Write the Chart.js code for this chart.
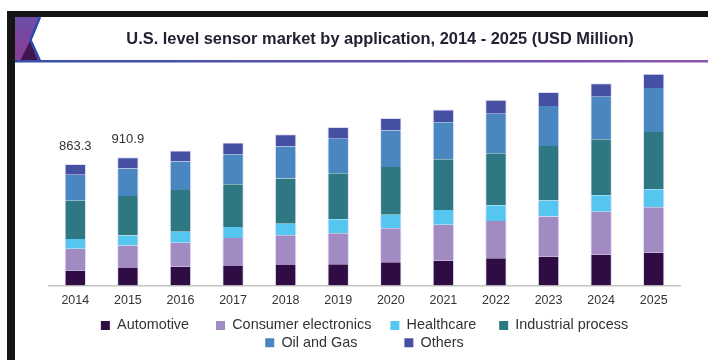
<!DOCTYPE html>
<html>
<head>
<meta charset="utf-8">
<script src="https://cdn.jsdelivr.net/npm/chart.js@4.4.1/dist/chart.umd.min.js"></script>
<style>
  html, body { margin: 0; padding: 0; background: #ffffff; }
  #wrap { position: relative; width: 708px; height: 360px; }
</style>
</head>
<body>
<div id="wrap"><canvas id="bar_chart"></canvas></div>
<script>
  // Years on the x axis
  const years = ['2014', '2015', '2016', '2017', '2018', '2019', '2020', '2021', '2022', '2023', '2024', '2025'];

  // Market size per application, USD million (stacked bottom to top)
  const automotive = [108, 125, 134, 139, 146, 151, 165, 176, 194, 205, 219, 233];
  const consumerElectronics = [154, 160, 171, 199, 211, 221, 242, 256, 265, 285, 306, 323];
  const healthcare = [69, 71, 78, 78, 83, 100, 97, 105, 112, 114, 117, 128];
  const industrialProcess = [271, 281, 297, 304, 320, 327, 339, 361, 370, 387, 398, 408];
  const oilAndGas = [185, 194, 201, 213, 228, 244, 258, 263, 280, 285, 301, 311];
  const others = [76.3, 79.9, 78, 83, 88, 83, 90, 90, 100, 100, 97, 102];

  const seriesNames = ['Automotive', 'Consumer electronics', 'Healthcare', 'Industrial process', 'Oil and Gas', 'Others'];
  const seriesValues = [automotive, consumerElectronics, healthcare, industrialProcess, oilAndGas, others];

  // Years that get a total printed above the bar
  const labelledYears = ['2014', '2015'];

  const chartTitle = 'U.S. level sensor market by application, 2014 - 2025 (USD Million)';

  const colors = ['#300c44', '#a28ac2', '#55c6f0', '#2d7883', '#4a86bf', '#4650a3'];
  // extra spaces after each legend entry, to spread the items out
  const legendGaps = [6, 4, 5, 0, 11, 0];

  const FONT = "'Liberation Sans', Arial, sans-serif";

  // header: frame, purple corner piece, title and underline
  const headerDecor = {
    id: 'headerDecor',
    beforeDraw(chart) {
      const ctx = chart.ctx;
      ctx.save();
      ctx.fillStyle = '#151515';
      ctx.fillRect(7, 11, 701, 6);
      ctx.fillRect(7, 11, 8, 349);

      const grad = ctx.createLinearGradient(0, 17, 0, 61);
      grad.addColorStop(0, '#6a4ea8');
      grad.addColorStop(1, '#8c3c98');
      ctx.fillStyle = grad;
      ctx.beginPath();
      ctx.moveTo(15, 17);
      ctx.lineTo(39, 17);
      ctx.lineTo(30, 40);
      ctx.lineTo(39, 61);
      ctx.lineTo(15, 61);
      ctx.closePath();
      ctx.fill();

      ctx.fillStyle = '#3e1650';
      ctx.beginPath();
      ctx.moveTo(20, 61);
      ctx.lineTo(30, 41);
      ctx.lineTo(38, 61);
      ctx.closePath();
      ctx.fill();

      ctx.strokeStyle = '#2b4aa8';
      ctx.lineWidth = 2.5;
      ctx.beginPath();
      ctx.moveTo(40, 17);
      ctx.lineTo(30.5, 40);
      ctx.lineTo(40, 61);
      ctx.stroke();

      const line = ctx.createLinearGradient(15, 0, 708, 0);
      line.addColorStop(0, '#3550a5');
      line.addColorStop(1, '#8b55b0');
      ctx.fillStyle = line;
      ctx.fillRect(15, 60, 693, 2.5);

      ctx.font = 'bold 16.4px ' + FONT;
      ctx.fillStyle = '#222233';
      ctx.textAlign = 'center';
      ctx.textBaseline = 'middle';
      ctx.fillText(chartTitle, 380, 39);
      ctx.restore();
    }
  };

  // total value written above selected bars
  const totalLabels = {
    id: 'totalLabels',
    afterDatasetsDraw(chart) {
      const ctx = chart.ctx;
      const topMeta = chart.getDatasetMeta(seriesValues.length - 1);
      ctx.save();
      ctx.font = '13px ' + FONT;
      ctx.fillStyle = '#333333';
      ctx.textAlign = 'center';
      ctx.textBaseline = 'middle';
      labelledYears.forEach(year => {
        const i = years.indexOf(year);
        const total = seriesValues.reduce((s, arr) => s + arr[i], 0);
        const bar = topMeta.data[i];
        ctx.fillText(total.toFixed(1), bar.x, bar.y - 18);
      });
      ctx.restore();
    }
  };

  const datasets = seriesNames.map((name, k) => ({
    label: name,
    data: seriesValues[k],
    backgroundColor: colors[k],
    borderColor: 'rgba(222,216,244,0.9)',
    borderWidth: k === seriesValues.length - 1 ? {top: 1, left: 1, right: 1, bottom: 0} : {top: 0, left: 1, right: 1, bottom: 0},
    categoryPercentage: 1,
    barPercentage: 0.407
  }));

  const ctx = document.getElementById('bar_chart').getContext('2d');
  new Chart(ctx, {
    type: 'bar',
    data: { labels: years, datasets: datasets },
    plugins: [headerDecor, totalLabels],
    options: {
      responsive: true,
      maintainAspectRatio: false,
      animation: false,
      layout: { padding: { left: 49, right: 28, top: 66, bottom: 0 } },
      plugins: {
        title: { display: false },
        legend: {
          position: 'bottom',
          labels: {
            color: '#333333',
            font: { family: FONT, size: 14.4 },
            boxWidth: 9,
            boxHeight: 9,
            padding: 3,
            generateLabels(chart) {
              const items = Chart.defaults.plugins.legend.labels.generateLabels(chart);
              items.forEach((item, i) => {
                item.text = item.text + ' '.repeat(legendGaps[i]);
                item.lineWidth = 0;
              });
              return items;
            }
          }
        },
        tooltip: { enabled: false }
      },
      scales: {
        x: {
          stacked: true,
          grid: { display: false, drawTicks: false },
          border: { display: true, color: '#c4c4c4', width: 1.5 },
          ticks: { color: '#333333', font: { family: FONT, size: 12.5 }, padding: 7.3 }
        },
        y: {
          stacked: true,
          display: false,
          min: 0,
          max: 1560
        }
      }
    }
  });
</script>
</body>
</html>
